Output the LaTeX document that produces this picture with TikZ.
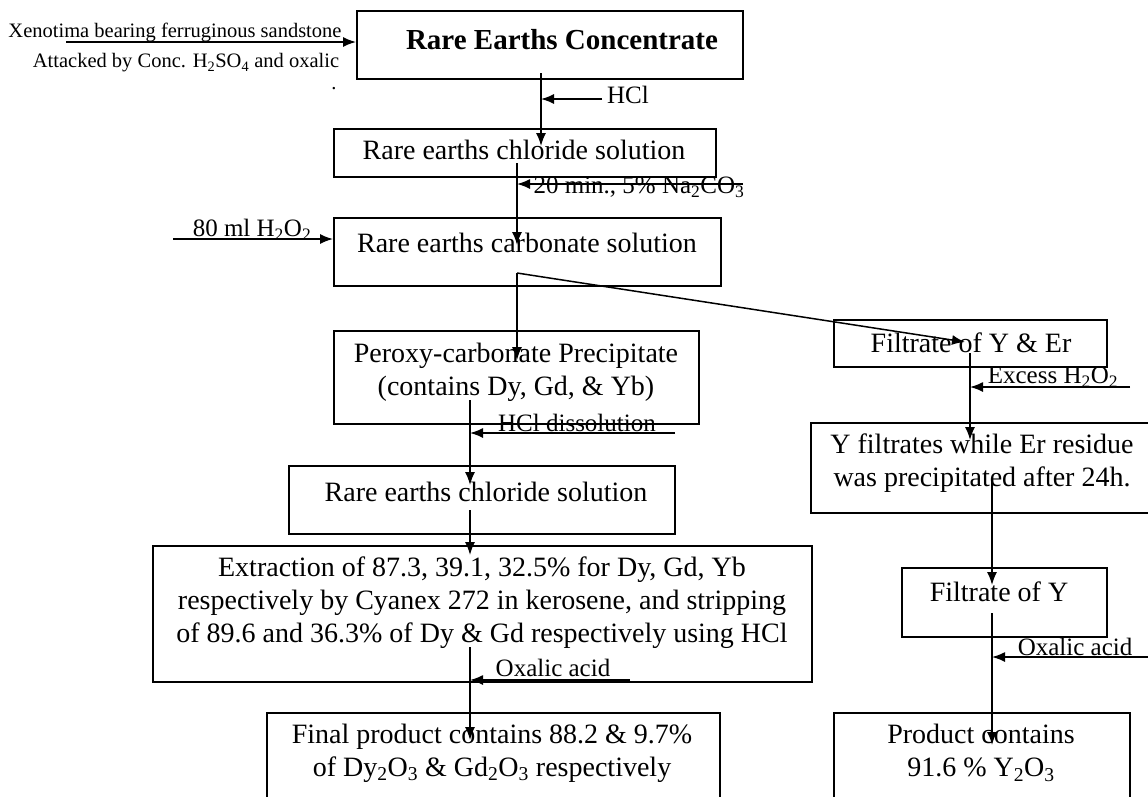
\documentclass[tikz,border=0pt]{standalone}
\usepackage{fontspec}
\setmainfont{Liberation Serif}
\usetikzlibrary{arrows.meta}

\begin{document}
\begin{tikzpicture}[x=1pt, y=-1pt, >={Latex[length=13pt,width=10pt]}, line width=1.5pt,
  box/.style={draw, inner sep=0pt, anchor=north west},
  txt/.style={font=\fontsize{28}{33}\selectfont, align=center, inner sep=0pt},
  lbl/.style={font=\fontsize{25}{29}\selectfont, inner sep=0pt},
  small/.style={font=\fontsize{20.5}{22}\selectfont, inner sep=0pt}]
\clip (0,0) rectangle (1148,796);
% Kaesten
\node[box, minimum width=386, minimum height=68] (conc)    at (356,10)  {};
\node[box, minimum width=382, minimum height=48] (chlA)    at (333,128) {};
\node[box, minimum width=387, minimum height=68] (carb)    at (333,217) {};
\node[box, minimum width=365, minimum height=93] (perox)   at (333,330) {};
\node[box, minimum width=273, minimum height=47] (filtYEr) at (833,319) {};
\node[box, minimum width=345, minimum height=90] (yfilt)   at (810,422) {};
\node[box, minimum width=386, minimum height=68] (chlB)    at (288,465) {};
\node[box, minimum width=659, minimum height=136] (extr)   at (152,545) {};
\node[box, minimum width=205, minimum height=69] (filtY)   at (901,567) {};
\node[box, minimum width=453, minimum height=110] (final)  at (266,712) {};
\node[box, minimum width=296, minimum height=110] (prod)   at (833,712) {};
% Texte in den Kaesten
\node[txt, font=\fontsize{29}{33}\selectfont\bfseries] (concT) at (562,40) {Rare Earths Concentrate};
\node[txt] (chlAT)    at (524,150) {Rare earths chloride solution};
\node[txt] (carbT)    at (527,243) {Rare earths carbonate solution};
\node[txt] (peroxT)   at (516,372) {Peroxy-carbonate Precipitate\\(contains Dy, Gd, \& Yb)};
\node[txt] (filtYErT) at (971,343) {Filtrate of Y \& Er};
\node[txt] (yfiltT)   at (982,463) {Y filtrates while Er residue\\was precipitated after 24h.};
\node[txt] (chlBT)    at (486,492) {Rare earths chloride solution};
\node[txt] (extrT)    at (482,603) {Extraction of 87.3, 39.1, 32.5\% for Dy, Gd, Yb\\respectively by Cyanex 272 in kerosene, and stripping\\of 89.6 and 36.3\% of Dy \& Gd respectively using HCl};
\node[txt] (filtYT)   at (999,592) {Filtrate of Y};
\node[txt] (finalT)   at (492,753) {Final product contains 88.2 \& 9.7\%\\of Dy\textsubscript{2}O\textsubscript{3} \& Gd\textsubscript{2}O\textsubscript{3} respectively};
\node[txt] (prodT)    at (981,753) {Product contains\\91.6 \% Y\textsubscript{2}O\textsubscript{3}};
% Zugaben
\node[small] (xeno)   at (175,32) {Xenotima bearing ferruginous sandstone};
\node[small] (attack) at (186,63) {Attacked by Conc. H\textsubscript{2}SO\textsubscript{4} and oxalic};
\node[small] (dot)    at (334,89) {.};
\node[lbl] (hcl)    at (628,95)  {HCl};
\node[lbl] (naco)   at (639,187) {20 min., 5\% Na\textsubscript{2}CO\textsubscript{3}};
\node[lbl] (hoo)    at (252,230) {80 ml H\textsubscript{2}O\textsubscript{2}};
\node[lbl] (hcldis) at (577,423) {HCl dissolution};
\node[lbl] (oxA)    at (553,668) {Oxalic acid};
\node[lbl] (excess) at (1053,377) {Excess H\textsubscript{2}O\textsubscript{2}};
\node[lbl] (oxB)    at (1075,647) {Oxalic acid};
% Punkte der Pfeile
\coordinate (in0) at (66,42);
\coordinate (a0) at (541,73);   \coordinate (a1) at (541,146);  \coordinate (h0) at (602,99);
\coordinate (b0) at (517,163);  \coordinate (b1) at (517,245);  \coordinate (n0) at (743,184);
\coordinate (p0) at (173,239);
\coordinate (c0) at (517,273);  \coordinate (c1) at (517,360);  \coordinate (c2) at (965,342);
\coordinate (d0) at (470,400);  \coordinate (d1) at (470,485);  \coordinate (e0) at (675,433);
\coordinate (f0) at (470,510);  \coordinate (f1) at (470,555);
\coordinate (g0) at (470,647);  \coordinate (g1) at (470,740);  \coordinate (o0) at (630,680);
\coordinate (k0) at (970,353);  \coordinate (k1) at (970,440);  \coordinate (x0) at (1130,387);
\coordinate (m0) at (992,480);  \coordinate (m1) at (992,585);
\coordinate (q0) at (992,613);  \coordinate (q1) at (992,745);  \coordinate (r0) at (1150,657);
% Pfeile
\draw[->] (in0) -- (in0 -| conc.west);
\draw[->] (a0) -- (a1);
\draw[->] (h0) -- (h0 -| a0);
\draw[->] (b0) -- (b1);
\draw[->] (n0) -- (n0 -| b0);
\draw[->] (p0) -- (p0 -| carb.west);
\draw[->] (c0) -- (c1);
\draw[->] (c0) -- (c2);
\draw[->] (d0) -- (d1);
\draw[->] (e0) -- (e0 -| d0);
\draw[->] (f0) -- (f1);
\draw[->] (g0) -- (g1);
\draw[->] (o0) -- (o0 -| g0);
\draw[->] (k0) -- (k1);
\draw[->] (x0) -- (x0 -| k0);
\draw[->] (m0) -- (m1);
\draw[->] (q0) -- (q1);
\draw[->] (r0) -- (r0 -| q0);
\end{tikzpicture}
\end{document}
